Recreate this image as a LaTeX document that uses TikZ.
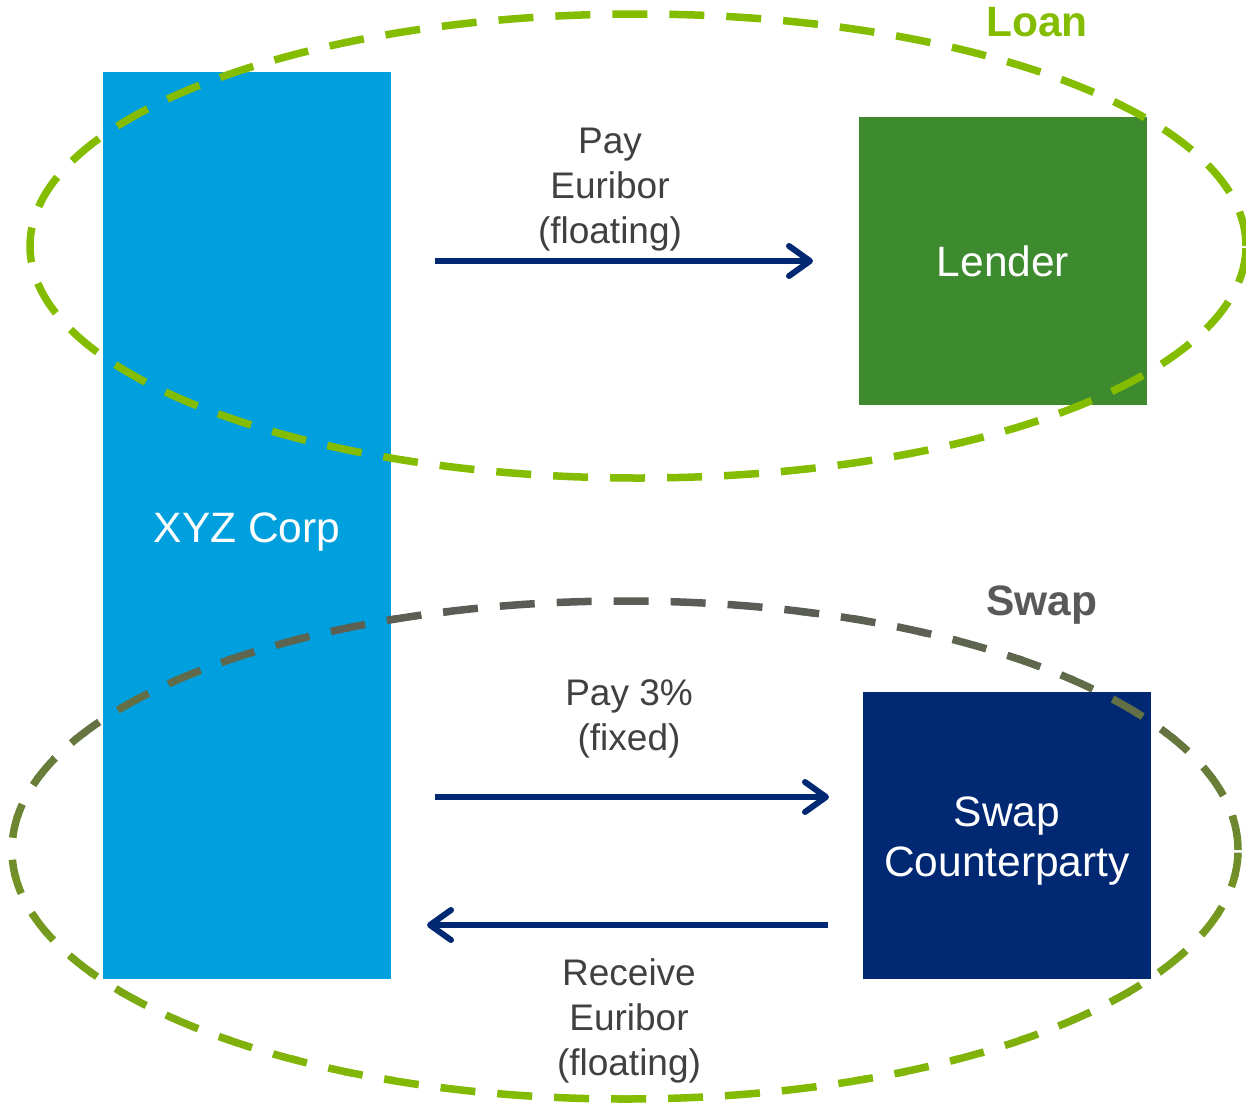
\documentclass[tikz,border=0pt]{standalone}
\usepackage{fontspec}
\setmainfont{Liberation Sans}
\usetikzlibrary{arrows.meta}
\definecolor{loangreen}{HTML}{84BD00}
\definecolor{swapgray}{HTML}{5A5C56}
\definecolor{corpblue}{HTML}{00A0DF}
\definecolor{lendgreen}{HTML}{3D8A2F}
\definecolor{navyblue}{HTML}{002873}
\definecolor{txtgray}{HTML}{404040}
\definecolor{titlegray}{HTML}{595959}
\begin{document}
\begin{tikzpicture}[x=1pt,y=-1pt,
  box/.style={rectangle, inner sep=0pt, minimum width=288pt, text=white,
    font=\fontsize{42.5}{50}\selectfont, align=center},
  ring/.style={line width=7.5pt, dash pattern=on 35pt off 22pt},
  flow/.style={draw=navyblue, line width=6pt,
    -{Straight Barb[length=21pt,width=30pt,round]}},
  lbl/.style={text=txtgray, font=\fontsize{37}{45}\selectfont, align=center},
  ttl/.style={font=\bfseries\fontsize{42.5}{48}\selectfont}]
\useasboundingbox (0,0) rectangle (1246,1103);
% boxes
\node[box, fill=corpblue, minimum height=907pt] (xyz) at (247,525.5) {};
\node[box] (xyzt) at (247,532) {XYZ Corp};
\node[box, fill=lendgreen, minimum height=288pt] (lender) at (1003,261) {Lender};
\node[box, fill=navyblue, minimum height=287pt] (swapcp) at (1007,835.5) {};
\node[box] (swapcpt) at (1007,841.5) {Swap\\Counterparty};
% loan ring
\draw[ring, draw=loangreen] (638,246) ellipse [x radius=608pt, y radius=232pt];
% swap ring with vertical colour blend
\foreach \i in {0,...,25}{
  \pgfmathtruncatemacro\p{100*\i/25}
  \pgfmathsetmacro\ya{595+\i*20}
  \pgfmathsetmacro\yb{\ya+21}
  \colorlet{bandc}{loangreen!\p!swapgray}
  \begin{scope}
    \clip (0,\ya) rectangle (1246,\yb);
    \draw[ring, draw=bandc] (625,850) ellipse [x radius=613pt, y radius=249pt];
  \end{scope}
}
% titles
\node[ttl, text=loangreen] (loan) at (1037,22) {Loan};
\node[ttl, text=titlegray] (swap) at (1042,605) {Swap};
% arrows
\coordinate (a1s) at (435,261);
\coordinate (a1e) at (813,261);
\coordinate (a2s) at (435,797);
\coordinate (a2e) at (829,797);
\coordinate (a3s) at (828,925);
\coordinate (a3e) at (427,925);
\draw[flow] (a1s) -- (a1e);
\draw[flow] (a2s) -- (a2e);
\draw[flow] (a3s) -- (a3e);
% labels
\node[lbl] (l1) at (610,190) {Pay\\Euribor\\(floating)};
\node[lbl] (l2) at (629,719) {Pay 3\%\\(fixed)};
\node[lbl] (l3) at (629,1021) {Receive\\Euribor\\(floating)};
\end{tikzpicture}
\end{document}
